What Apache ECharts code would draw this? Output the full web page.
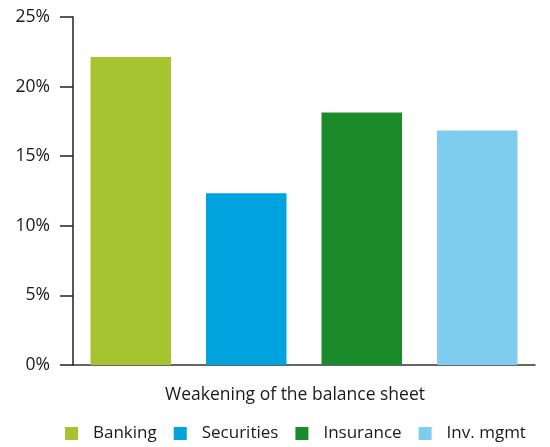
<!DOCTYPE html>
<html>
<head>
<meta charset="utf-8">
<script src="https://cdn.jsdelivr.net/npm/echarts@6/dist/echarts.min.js"></script>
<style>html,body{margin:0;padding:0;background:#fff}#c{width:550px;height:447px}</style>
</head>
<body>
<div id="c"></div>
<script>
const categories = ['Banking', 'Securities', 'Insurance', 'Inv. mgmt'];
const values = [22.13, 12.33, 18.14, 16.85];
const colors = ['#A5C42F', '#00A3DD', '#1B8A2B', '#7FCDEE'];
const yTicks = [0, 5, 10, 15, 20, 25];
const axisTitle = 'Weakening of the balance sheet';

const font = 'Open Sans';
const fs = 17.5;
const chart = echarts.init(document.getElementById('c'), null, {renderer: 'canvas'});
const series = categories.map((name, i) => ({
  name: name,
  type: 'bar',
  barWidth: 80.5,
  barGap: '-100%',
  itemStyle: {color: colors[i]},
  data: categories.map((c, j) => j === i ? values[i] : '-')
}));
chart.setOption({
  animation: false,
  textStyle: {fontFamily: font},
  grid: {left: 73, right: 15, top: 17, bottom: 82, containLabel: false},
  legend: {
    data: categories,
    left: 60,
    top: 420,
    itemWidth: 13,
    itemHeight: 13,
    itemGap: 17,
    icon: 'rect',
    textStyle: {fontFamily: font, fontSize: 17, color: '#1a1a1a', padding: [0, 0, 0, 10]}
  },
  xAxis: {
    type: 'category',
    data: categories,
    name: axisTitle,
    nameLocation: 'middle',
    nameGap: 21,
    nameTextStyle: {fontFamily: font, fontSize: fs, color: '#1a1a1a', padding: [0, 18, 0, 0]},
    axisLine: {show: true, lineStyle: {color: '#333', width: 1.5}},
    axisTick: {show: false},
    axisLabel: {show: false}
  },
  yAxis: {
    type: 'value',
    min: yTicks[0],
    max: yTicks[yTicks.length - 1],
    interval: 5,
    axisLine: {show: true, lineStyle: {color: '#222', width: 1.5}},
    axisTick: {show: true, length: 13, lineStyle: {color: '#222', width: 1.5}},
    splitLine: {show: false},
    axisLabel: {
      margin: 23,
      fontFamily: font,
      fontSize: fs,
      color: '#1a1a1a',
      formatter: v => v + '%'
    }
  },
  series: series
});
</script>
</body>
</html>
